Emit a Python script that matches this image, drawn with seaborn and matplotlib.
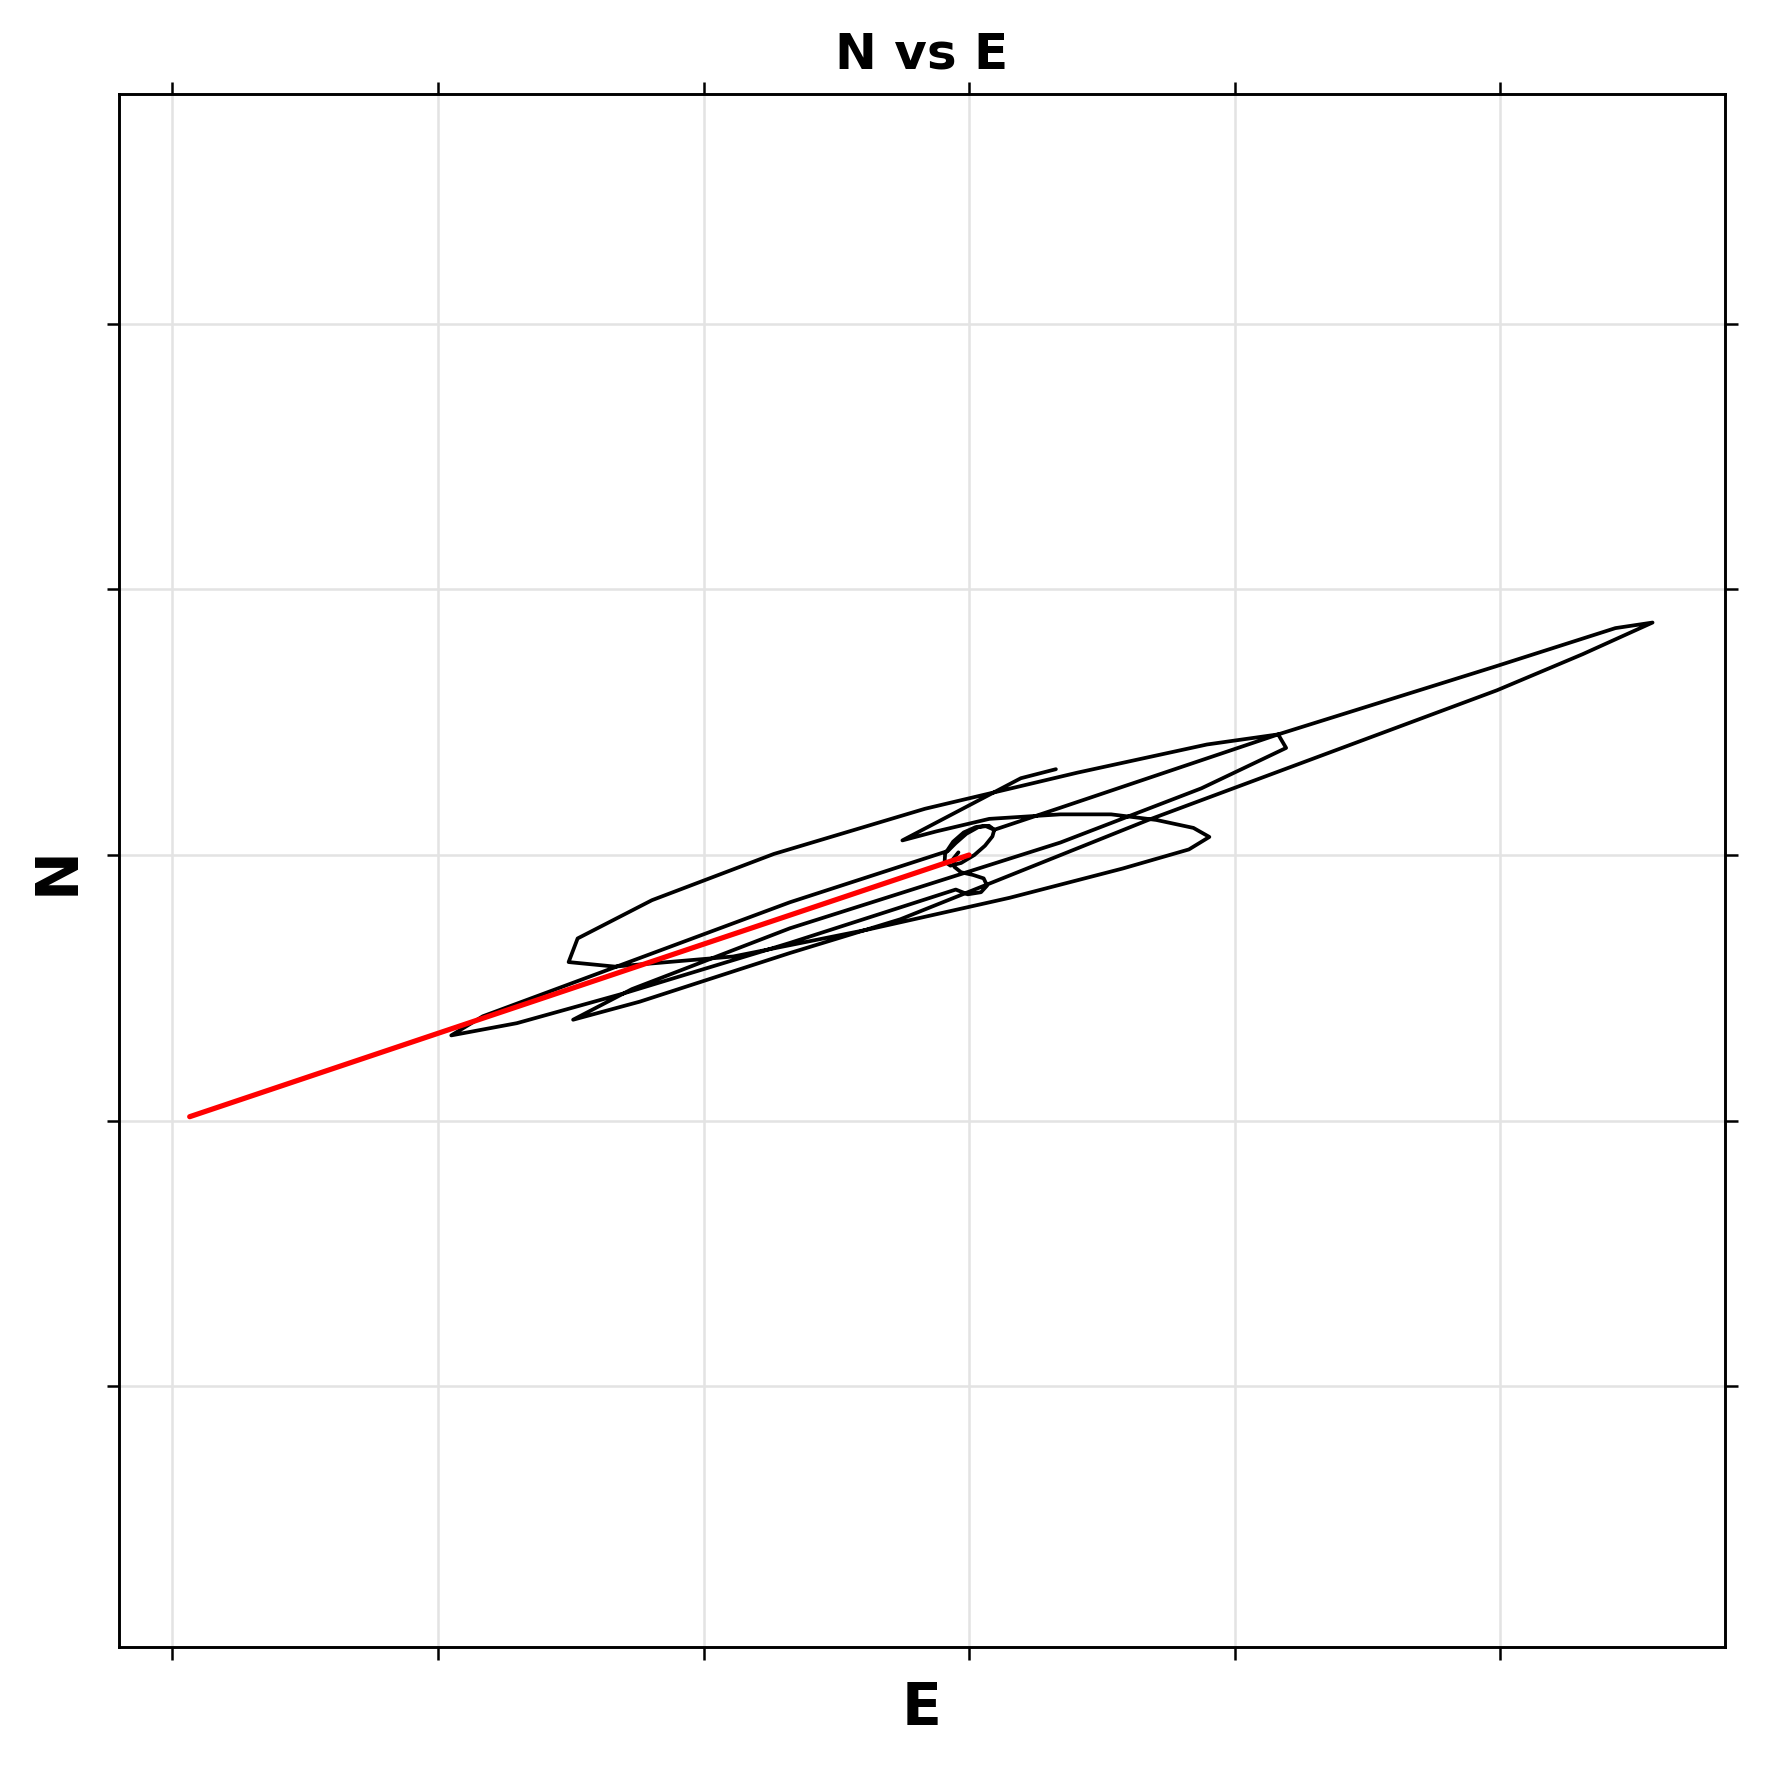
import numpy as np
import pandas as pd
import matplotlib
matplotlib.use("Agg")
import matplotlib.pyplot as plt
import seaborn as sns

# particle motion trace (E, N)
east = [0.327, 0.195, -0.251, -0.123, 0.076, 0.344, 0.535, 0.705, 0.845, 0.905,
        0.828, 0.578, 0.153, -0.378, -0.888, -1.334, -1.508, -1.474, -1.194, -0.735,
        -0.166, 0.408, 0.896, 1.164, 1.194, 0.875, 0.344, -0.675, -1.270, -1.491,
        -1.240, -0.675, -0.259, 0.675, 1.988, 2.311, 2.574, 2.434, 1.980, 1.164,
        0.344, 0.095, 0.060, 0.025, -0.020, -0.060, -0.090, -0.092, -0.070, -0.030,
        0.020, 0.060, 0.088, 0.095, 0.075, 0.035, -0.010, -0.050, -0.080, -0.675,
        -1.831, -1.950, -1.703, -1.304, -0.675, -0.050, -0.005, 0.045, 0.068, 0.055,
        0.015, -0.030, -0.055, -0.060, -0.040]
north = [0.323, 0.289, 0.055, 0.089, 0.136, 0.153, 0.153, 0.132, 0.102, 0.068,
         0.021, -0.051, -0.161, -0.280, -0.382, -0.420, -0.403, -0.314, -0.170, 0.004,
         0.174, 0.310, 0.416, 0.454, 0.403, 0.251, 0.047, -0.276, -0.505, -0.620,
         -0.552, -0.369, -0.242, 0.132, 0.620, 0.756, 0.875, 0.854, 0.709, 0.454,
         0.178, 0.095, 0.110, 0.105, 0.085, 0.050, 0.005, -0.025, -0.040, -0.030,
         0.000, 0.035, 0.070, 0.095, 0.110, 0.105, 0.080, 0.045, 0.015, -0.178,
         -0.607, -0.679, -0.633, -0.522, -0.331, -0.130, -0.148, -0.140, -0.115, -0.088,
         -0.075, -0.065, -0.045, -0.015, 0.010]

# back-azimuth direction line
dir_east = [0.0, -2.935]
dir_north = [0.0, -0.985]

xticks = [-3, -2, -1, 0, 1, 2]
yticks = [-2, -1, 0, 1, 2]

trace = pd.DataFrame({"E": east, "N": north})
direction = pd.DataFrame({"E": dir_east, "N": dir_north})

sns.set_style("white")
plt.rcParams["text.color"] = "black"
plt.rcParams["axes.labelcolor"] = "black"
fig = plt.figure(figsize=(1769 / 300, 1766 / 300), dpi=300)
ax = fig.add_axes([0.067, 0.0674, 0.908, 0.8796])

sns.lineplot(data=trace, x="E", y="N", sort=False, estimator=None,
             color="black", linewidth=0.9, ax=ax)
sns.lineplot(data=direction, x="E", y="N", sort=False, estimator=None,
             color="red", linewidth=1.25, ax=ax)

ax.set_xlim(-3.203, 2.846)
ax.set_ylim(-2.981, 2.866)
ax.set_xticks(xticks)
ax.set_yticks(yticks)
ax.grid(True, color="#e3e3e3", linewidth=0.6)
ax.tick_params(direction="out", length=3, width=0.6, color="black",
               top=True, right=True, bottom=True, left=True,
               labelbottom=False, labelleft=False)
for s in ax.spines.values():
    s.set_linewidth(0.7)
    s.set_color("black")

ax.set_title("N vs E", fontsize=12, fontweight="bold", color="black", pad=6)
ax.set_xlabel("E", fontsize=14, fontweight="bold", color="black", labelpad=5)
ax.set_ylabel("N", fontsize=14, fontweight="bold", color="black", labelpad=5)

fig.savefig("out.png", dpi=300)
